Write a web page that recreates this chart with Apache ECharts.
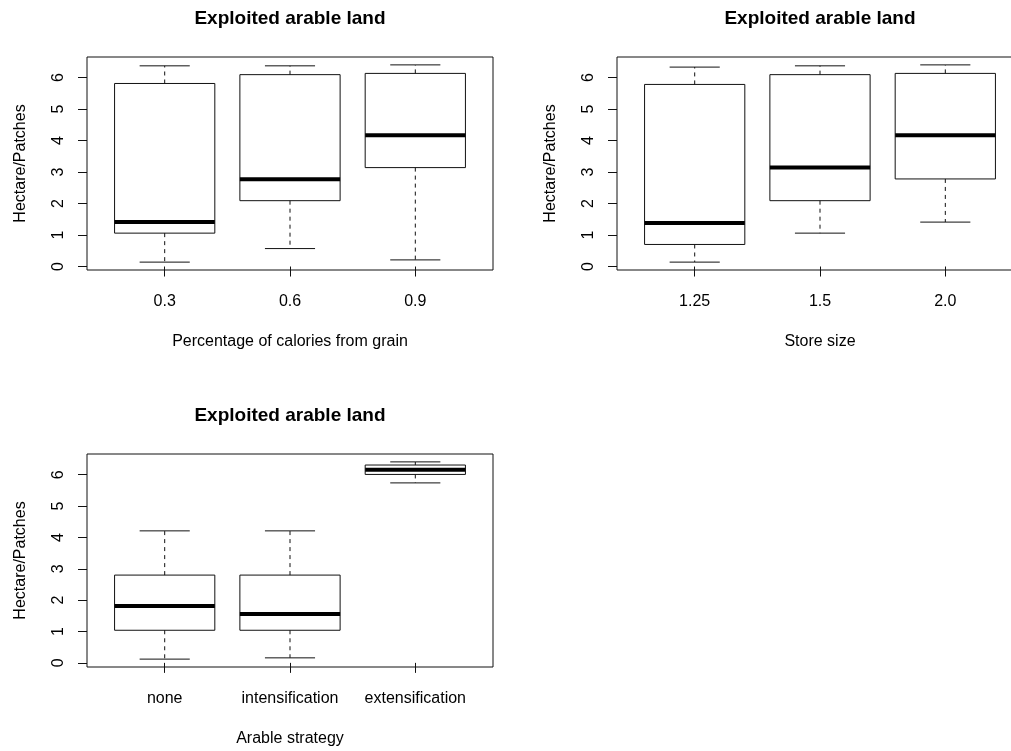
<!DOCTYPE html>
<html>
<head>
<meta charset="utf-8">
<script src="https://cdn.jsdelivr.net/npm/echarts@6/dist/echarts.min.js"></script>
<style>
  html, body { margin: 0; padding: 0; background: #fff; overflow: hidden; }
  /* the right-hand panel runs past the visible page edge */
  #chart { width: 1030px; height: 751px; }
</style>
</head>
<body>
<div id="chart"></div>
<script>
// Box statistics per group: [lower whisker, Q1, median, Q3, upper whisker]
const titleText = 'Exploited arable land';
const yAxisTitle = 'Hectare/Patches';
const yTicks = [0, 1, 2, 3, 4, 5, 6];

const grainCategories = ['0.3', '0.6', '0.9'];
const grainStats = [
  [0.14, 1.06, 1.41, 5.81, 6.37],
  [0.57, 2.09, 2.77, 6.09, 6.37],
  [0.21, 3.14, 4.17, 6.13, 6.40]
];
const grainAxisTitle = 'Percentage of calories from grain';

const storeCategories = ['1.25', '1.5', '2.0'];
const storeStats = [
  [0.14, 0.70, 1.38, 5.78, 6.33],
  [1.06, 2.09, 3.14, 6.09, 6.37],
  [1.41, 2.78, 4.17, 6.13, 6.40]
];
const storeAxisTitle = 'Store size';

const strategyCategories = ['none', 'intensification', 'extensification'];
const strategyStats = [
  [0.12, 1.04, 1.81, 2.80, 4.21],
  [0.16, 1.04, 1.56, 2.80, 4.21],
  [5.74, 6.01, 6.16, 6.31, 6.41]
];
const strategyAxisTitle = 'Arable strategy';

const FONT = '"Liberation Sans", Arial, sans-serif';
const INK = '#111';

// Panel frames in page pixels
const panels = [
  { left: 87,  top: 57,  cats: grainCategories,    stats: grainStats,    xTitle: grainAxisTitle },
  { left: 617, top: 57,  cats: storeCategories,    stats: storeStats,    xTitle: storeAxisTitle },
  { left: 87,  top: 454, cats: strategyCategories, stats: strategyStats, xTitle: strategyAxisTitle }
];
const PW = 406, PH = 213;

// Extend the data range by 4% on each side, as a classic box plot does
function yRange(stats) {
  let lo = Infinity, hi = -Infinity;
  stats.forEach(s => { lo = Math.min(lo, s[0]); hi = Math.max(hi, s[4]); });
  const pad = (hi - lo) * 0.04;
  return [lo - pad, hi + pad];
}

function renderBox(params, api) {
  const x = api.value(0);
  const lo = api.value(1), q1 = api.value(2), med = api.value(3), q3 = api.value(4), hi = api.value(5);
  const boxW = api.size([0.8, 0])[0];
  const capW = boxW / 2;
  const pLo = api.coord([x, lo]), pQ1 = api.coord([x, q1]), pMed = api.coord([x, med]);
  const pQ3 = api.coord([x, q3]), pHi = api.coord([x, hi]);
  const cx = pMed[0];
  const thin = { stroke: INK, lineWidth: 1, fill: null };
  const dashed = { stroke: INK, lineWidth: 1, lineDash: [4, 4], fill: null };
  return {
    type: 'group',
    children: [
      { type: 'line', shape: { x1: cx, y1: pQ3[1], x2: cx, y2: pHi[1] }, style: dashed },
      { type: 'line', shape: { x1: cx, y1: pQ1[1], x2: cx, y2: pLo[1] }, style: dashed },
      { type: 'line', shape: { x1: cx - capW / 2, y1: pHi[1], x2: cx + capW / 2, y2: pHi[1] }, style: thin },
      { type: 'line', shape: { x1: cx - capW / 2, y1: pLo[1], x2: cx + capW / 2, y2: pLo[1] }, style: thin },
      { type: 'rect', shape: { x: cx - boxW / 2, y: pQ3[1], width: boxW, height: pQ1[1] - pQ3[1] }, style: thin },
      { type: 'line', shape: { x1: cx - boxW / 2, y1: pMed[1], x2: cx + boxW / 2, y2: pMed[1] },
        style: { stroke: '#000', lineWidth: 4 } }
    ]
  };
}

const option = {
  animation: false,
  backgroundColor: '#fff',
  title: [],
  grid: [],
  xAxis: [],
  yAxis: [],
  series: []
};

panels.forEach((p, i) => {
  const [yMin, yMax] = yRange(p.stats);
  option.title.push({
    text: titleText,
    left: p.left + PW / 2,
    top: p.top - 48,
    textAlign: 'center',
    padding: 0,
    textStyle: { fontFamily: FONT, fontSize: 19, fontWeight: 'bold', color: '#000' }
  });
  option.grid.push({
    left: p.left, top: p.top, width: PW, height: PH,
    show: true, borderColor: INK, borderWidth: 1, backgroundColor: 'transparent'
  });
  option.xAxis.push({
    type: 'value', gridIndex: i, min: 0.38, max: 3.62,
    name: p.xTitle, nameLocation: 'middle', nameGap: 64,
    nameTextStyle: { fontFamily: FONT, fontSize: 16, color: '#000', verticalAlign: 'top' },
    axisLine: { show: false },
    splitLine: { show: false },
    axisTick: { show: true, length: 10, customValues: [1, 2, 3], lineStyle: { color: INK, width: 1 } },
    axisLabel: {
      customValues: [1, 2, 3], margin: 24,
      fontFamily: FONT, fontSize: 16, color: '#000',
      formatter: v => p.cats[Math.round(v) - 1]
    }
  });
  option.yAxis.push({
    type: 'value', gridIndex: i, min: yMin, max: yMax,
    name: yAxisTitle, nameLocation: 'middle', nameGap: 58, nameRotate: 90,
    nameTextStyle: { fontFamily: FONT, fontSize: 16, color: '#000' },
    axisLine: { show: false },
    splitLine: { show: false },
    axisTick: { show: true, length: 9, customValues: yTicks, lineStyle: { color: INK, width: 1 } },
    axisLabel: {
      customValues: yTicks, rotate: 90, margin: 20,
      fontFamily: FONT, fontSize: 16, color: '#000',
      formatter: v => String(Math.round(v))
    }
  });
  option.series.push({
    type: 'custom', xAxisIndex: i, yAxisIndex: i,
    renderItem: renderBox,
    encode: { x: 0, y: [1, 2, 3, 4, 5] },
    data: p.stats.map((s, k) => [k + 1].concat(s))
  });
});

const chart = echarts.init(document.getElementById('chart'), null, { renderer: 'canvas' });
chart.setOption(option);
</script>
</body>
</html>
